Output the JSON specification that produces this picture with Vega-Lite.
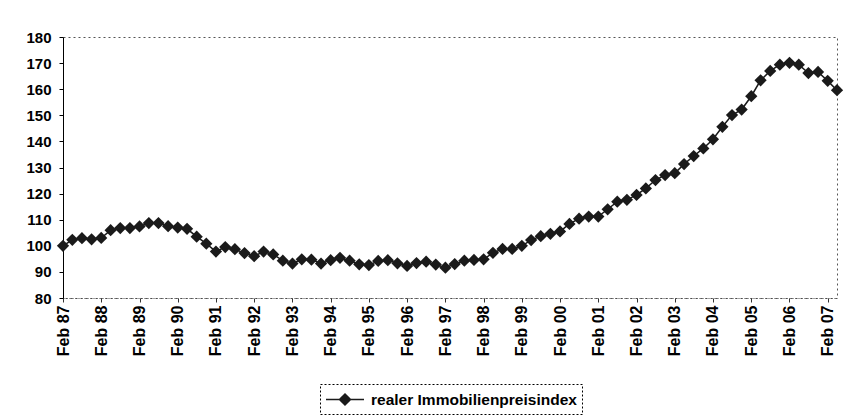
{
  "$schema": "https://vega.github.io/schema/vega-lite/v6.json",
  "width": 774,
  "height": 261,
  "autosize": {"type": "none"},
  "padding": {"left": 63, "top": 37, "right": 23, "bottom": 117},
  "background": "white",
  "config": {
    "font": "Liberation Sans",
    "view": {"stroke": "#555", "strokeDash": [2, 3], "strokeWidth": 1}
  },
  "data": {
    "values": [
      {"d": "1987-02-01", "v": 100},
      {"d": "1987-05-01", "v": 102.3},
      {"d": "1987-08-01", "v": 102.9},
      {"d": "1987-11-01", "v": 102.5},
      {"d": "1988-02-01", "v": 103},
      {"d": "1988-05-01", "v": 106},
      {"d": "1988-08-01", "v": 106.8},
      {"d": "1988-11-01", "v": 106.8},
      {"d": "1989-02-01", "v": 107.4},
      {"d": "1989-05-01", "v": 108.7},
      {"d": "1989-08-01", "v": 108.7},
      {"d": "1989-11-01", "v": 107.5},
      {"d": "1990-02-01", "v": 107},
      {"d": "1990-05-01", "v": 106.5},
      {"d": "1990-08-01", "v": 103.5},
      {"d": "1990-11-01", "v": 100.8},
      {"d": "1991-02-01", "v": 97.8},
      {"d": "1991-05-01", "v": 99.5},
      {"d": "1991-08-01", "v": 98.7},
      {"d": "1991-11-01", "v": 97.2},
      {"d": "1992-02-01", "v": 96},
      {"d": "1992-05-01", "v": 97.8},
      {"d": "1992-08-01", "v": 96.7},
      {"d": "1992-11-01", "v": 94.3},
      {"d": "1993-02-01", "v": 93.2},
      {"d": "1993-05-01", "v": 94.8},
      {"d": "1993-08-01", "v": 94.7},
      {"d": "1993-11-01", "v": 93.2},
      {"d": "1994-02-01", "v": 94.5},
      {"d": "1994-05-01", "v": 95.4},
      {"d": "1994-08-01", "v": 94.3},
      {"d": "1994-11-01", "v": 92.9},
      {"d": "1995-02-01", "v": 92.6},
      {"d": "1995-05-01", "v": 94.2},
      {"d": "1995-08-01", "v": 94.5},
      {"d": "1995-11-01", "v": 93.3},
      {"d": "1996-02-01", "v": 92.3},
      {"d": "1996-05-01", "v": 93.4},
      {"d": "1996-08-01", "v": 93.9},
      {"d": "1996-11-01", "v": 92.8},
      {"d": "1997-02-01", "v": 91.6},
      {"d": "1997-05-01", "v": 93},
      {"d": "1997-08-01", "v": 94.3},
      {"d": "1997-11-01", "v": 94.6},
      {"d": "1998-02-01", "v": 94.8},
      {"d": "1998-05-01", "v": 97.3},
      {"d": "1998-08-01", "v": 98.8},
      {"d": "1998-11-01", "v": 98.8},
      {"d": "1999-02-01", "v": 100},
      {"d": "1999-05-01", "v": 102.2},
      {"d": "1999-08-01", "v": 103.7},
      {"d": "1999-11-01", "v": 104.6},
      {"d": "2000-02-01", "v": 105.5},
      {"d": "2000-05-01", "v": 108.4},
      {"d": "2000-08-01", "v": 110.4},
      {"d": "2000-11-01", "v": 111.2},
      {"d": "2001-02-01", "v": 111.2},
      {"d": "2001-05-01", "v": 114},
      {"d": "2001-08-01", "v": 116.9},
      {"d": "2001-11-01", "v": 117.6},
      {"d": "2002-02-01", "v": 119.5},
      {"d": "2002-05-01", "v": 122},
      {"d": "2002-08-01", "v": 125.2},
      {"d": "2002-11-01", "v": 127.1},
      {"d": "2003-02-01", "v": 127.8},
      {"d": "2003-05-01", "v": 131.3},
      {"d": "2003-08-01", "v": 134.4},
      {"d": "2003-11-01", "v": 137.3},
      {"d": "2004-02-01", "v": 140.8},
      {"d": "2004-05-01", "v": 145.6},
      {"d": "2004-08-01", "v": 150.1},
      {"d": "2004-11-01", "v": 152.2},
      {"d": "2005-02-01", "v": 157.3},
      {"d": "2005-05-01", "v": 163.4},
      {"d": "2005-08-01", "v": 167},
      {"d": "2005-11-01", "v": 169.4},
      {"d": "2006-02-01", "v": 170.1},
      {"d": "2006-05-01", "v": 169.4},
      {"d": "2006-08-01", "v": 166.2},
      {"d": "2006-11-01", "v": 166.6},
      {"d": "2007-02-01", "v": 163.2},
      {"d": "2007-05-01", "v": 159.6}
    ]
  },
  "encoding": {
    "x": {
      "field": "d",
      "type": "temporal",
      "scale": {
        "type": "utc",
        "domain": [
          {"year": 1987, "month": 2, "date": 1, "utc": true},
          {"year": 2007, "month": 5, "date": 1, "utc": true}
        ]
      },
      "axis": {
        "title": null,
        "grid": false,
        "format": "%b %y",
        "values": [
          {"year": 1987, "month": 2, "date": 1, "utc": true},
          {"year": 1988, "month": 2, "date": 1, "utc": true},
          {"year": 1989, "month": 2, "date": 1, "utc": true},
          {"year": 1990, "month": 2, "date": 1, "utc": true},
          {"year": 1991, "month": 2, "date": 1, "utc": true},
          {"year": 1992, "month": 2, "date": 1, "utc": true},
          {"year": 1993, "month": 2, "date": 1, "utc": true},
          {"year": 1994, "month": 2, "date": 1, "utc": true},
          {"year": 1995, "month": 2, "date": 1, "utc": true},
          {"year": 1996, "month": 2, "date": 1, "utc": true},
          {"year": 1997, "month": 2, "date": 1, "utc": true},
          {"year": 1998, "month": 2, "date": 1, "utc": true},
          {"year": 1999, "month": 2, "date": 1, "utc": true},
          {"year": 2000, "month": 2, "date": 1, "utc": true},
          {"year": 2001, "month": 2, "date": 1, "utc": true},
          {"year": 2002, "month": 2, "date": 1, "utc": true},
          {"year": 2003, "month": 2, "date": 1, "utc": true},
          {"year": 2004, "month": 2, "date": 1, "utc": true},
          {"year": 2005, "month": 2, "date": 1, "utc": true},
          {"year": 2006, "month": 2, "date": 1, "utc": true},
          {"year": 2007, "month": 2, "date": 1, "utc": true}
        ],
        "labelAngle": 270,
        "labelAlign": "right",
        "labelBaseline": "middle",
        "labelFontSize": 16,
        "labelFontWeight": "bold",
        "labelColor": "#000",
        "labelOverlap": false,
        "labelPadding": 3,
        "labelFlush": false,
        "tickColor": "#333",
        "tickSize": 4,
        "domainColor": "#444",
        "domainDash": [1, 2]
      }
    },
    "y": {
      "field": "v",
      "type": "quantitative",
      "scale": {"domain": [80, 180], "nice": false, "zero": false},
      "axis": {
        "title": null,
        "grid": false,
        "values": [80, 90, 100, 110, 120, 130, 140, 150, 160, 170, 180],
        "labelFontSize": 15,
        "labelFontWeight": "bold",
        "labelColor": "#000",
        "labelPadding": 8,
        "tickSize": 4,
        "tickColor": "#000",
        "domainColor": "#000",
        "labelFlush": false
      }
    },
    "color": {
      "datum": "realer Immobilienpreisindex",
      "type": "nominal",
      "scale": {"range": ["#1a1a1a"]},
      "legend": {
        "orient": "none",
        "legendX": 257,
        "legendY": 347,
        "title": null,
        "symbolType": "M-1,0H3M1,-0.58L1.58,0L1,0.58L0.42,0Z",
        "symbolSize": 361,
        "symbolStrokeWidth": 1.5,
        "symbolFillColor": "#000",
        "symbolStrokeColor": "#000",
        "symbolOpacity": 1,
        "labelFontSize": 15.5,
        "labelFontWeight": "bold",
        "labelColor": "#000",
        "labelOffset": 25,
        "labelLimit": 500,
        "padding": 5,
        "strokeColor": "#000",
        "fillColor": "#fff",
        "encode": {
          "legend": {"update": {"strokeDash": {"value": [2, 2]}}},
          "symbols": {"update": {"fill": {"value": "#000"}, "stroke": {"value": "#000"}, "strokeWidth": {"value": 1.5}, "opacity": {"value": 1}}}
        }
      }
    }
  },
  "layer": [
    {"mark": {"type": "line", "strokeWidth": 1.5}},
    {"mark": {"type": "point", "shape": "diamond", "filled": true, "size": 150, "opacity": 1}}
  ]
}
